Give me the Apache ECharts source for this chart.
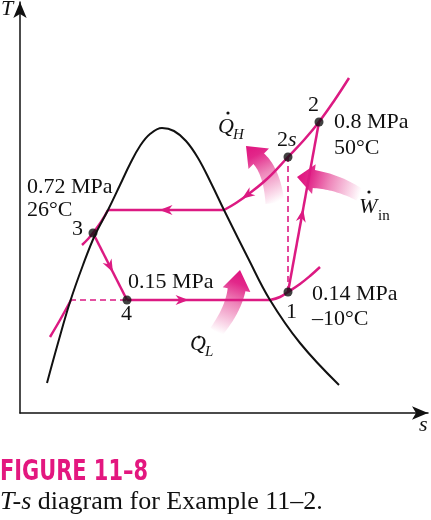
<!DOCTYPE html>
<html><head><meta charset="utf-8">
<script src="https://cdn.jsdelivr.net/npm/echarts@6/dist/echarts.min.js"></script>
<style>html,body{margin:0;padding:0;background:#fff}#c{width:431px;height:520px}</style>
</head><body><div id="c"></div>
<script>
// ---- values (s, T in arbitrary diagram units) ----
const saturationDome = [[27,30],[38,70],[50,111],[63,148],[75,178],[88,203],[100,228],[110,249],[120,267],[130,279],[142,285],[154,282],[166,272],[178,255],[191,230],[204,203],[228,155],[250,113],[280,70],[319,28]];
const condenserLine = [[88,203],[204,203]];
const superheatHigh = [[204,203],[216,210],[230,220],[248,235],[268,256],[284,273],[299,291],[314,312],[329,335]];
const liquidHigh = [[62,168],[68,174],[73,180],[81,191],[88,203]];
const liquidLow = [[30,76],[40,93],[51,113]];
const throttleLine = [[73,180],[107,113]];
const liquidDash = [[50,113],[107,113]];
const evaporatorLine = [[107,113],[250,113]];
const superheatLow = [[250,113],[260,116],[268,121],[280,129],[290,137],[300,146]];
const compressionLine = [[268,121],[299,291]];
const isentropicDash = [[268,121],[268,256]];
const stateNames = ['1','2','2s','3','4'];
const statePoints = [[268,121],[299,291],[268,256],[73,180],[107,113]];

// ---- styling / layout ----
const PINK = '#dc1a82';
const SERIF = '"Liberation Serif","Times New Roman",serif';

const flowArrows = [
  {a: condenserLine[1], b: condenserLine[0], t: 0.5},
  {a: superheatHigh[2], b: superheatHigh[1], t: 0.2},
  {a: throttleLine[0], b: throttleLine[1], t: 0.5},
  {a: evaporatorLine[0], b: evaporatorLine[1], t: 0.385},
  {a: compressionLine[0], b: compressionLine[1], t: 0.45}
];

// heat / work arrows: tail, control, tip (diagram units)
const bigArrows = [
  {p0:[255,210], p1:[252,241], p2:[226,267], tailW:19, bodyW:15, headW:29, headLen:18}, // Q_H
  {p0:[340,218], p1:[318,231], p2:[277,236], tailW:13, bodyW:18, headW:30, headLen:17}, // W_in
  {p0:[196,81],  p1:[213,103], p2:[220,143], tailW:14, bodyW:18, headW:28, headLen:20}  // Q_L
];

const labels = [
  {t:'2', s:288, T:307.4},
  {t:'2', s:257, T:272.4},
  {t:'s', s:268, T:272.4, it:true},
  {t:'0.8 MPa', s:314, T:290.4},
  {t:'50°C', s:314, T:264.4},
  {t:'0.72 MPa', s:7, T:225.4},
  {t:'26°C', s:7, T:202.4},
  {t:'3', s:52, T:183.4},
  {t:'4', s:101, T:98.4},
  {t:'1', s:266, T:100.4},
  {t:'0.15 MPa', s:108, T:130.4},
  {t:'0.14 MPa', s:292, T:118.4},
  {t:'–10°C', s:292, T:93.4},
  {t:'Q', s:198, T:285.4, it:true},
  {t:'H', s:213, T:278.1, it:true, size:15},
  {t:'W', s:339, T:205.4, it:true},
  {t:'in', s:358, T:197.1, size:15},
  {t:'Q', s:170, T:68.4, it:true},
  {t:'L', s:185, T:61.1, it:true, size:15},
  {t:'T', s:-19, T:403.4, it:true},
  {t:'s', s:399, T:-12.6, it:true}
];
const dots = [[208,300],[349,221],[179,76]];

function lineSeries(data, opts) {
  return Object.assign({
    type:'line', data, symbol:'none', smooth:false, animation:false, z:3,
    lineStyle:{color:PINK, width:2.5}
  }, opts || {});
}

const chart = echarts.init(document.getElementById('c'), null, {renderer:'canvas'});

const axisCommon = {
  type:'value', axisTick:{show:false}, axisLabel:{show:false}, splitLine:{show:false},
  axisLine:{show:true, symbol:['none','arrow'], symbolSize:[10,16], lineStyle:{color:'#111', width:1.5}}
};

chart.setOption({
  animation:false,
  grid:{left:20, top:2, width:408, height:411},
  xAxis:Object.assign({min:0, max:408}, axisCommon),
  yAxis:Object.assign({min:0, max:411}, axisCommon),
  series:[
    lineSeries(liquidDash, {lineStyle:{color:PINK, width:1.6, type:[6,4]}}),
    lineSeries(isentropicDash, {lineStyle:{color:PINK, width:1.6, type:[6,4]}}),
    lineSeries(liquidLow, {smooth:0.4}),
    lineSeries(liquidHigh, {smooth:0.4}),
    lineSeries(condenserLine),
    lineSeries(superheatHigh, {smooth:0.4}),
    lineSeries(throttleLine),
    lineSeries(evaporatorLine),
    lineSeries(superheatLow, {smooth:0.4}),
    lineSeries(compressionLine),
    lineSeries(saturationDome, {smooth:0.4, z:4, lineStyle:{color:'#111', width:2}}),
    { // flow direction arrowheads
      type:'custom', z:5, clip:false,
      data: flowArrows.map(f => [f.a[0] + f.t*(f.b[0]-f.a[0]), f.a[1] + f.t*(f.b[1]-f.a[1])]),
      renderItem(params, api) {
        const f = flowArrows[params.dataIndex];
        const A = api.coord(f.a), B = api.coord(f.b);
        const P = [A[0] + f.t*(B[0]-A[0]), A[1] + f.t*(B[1]-A[1])];
        let ux = B[0]-A[0], uy = B[1]-A[1]; const L0 = Math.hypot(ux,uy); ux/=L0; uy/=L0;
        const nx = -uy, ny = ux, L = 13, W = 10;
        const tip = [P[0]+ux*L/2, P[1]+uy*L/2];
        const back = [P[0]-ux*L/2, P[1]-uy*L/2];
        const notch = [back[0]+ux*L*0.3, back[1]+uy*L*0.3];
        return {type:'polygon', shape:{points:[tip,[back[0]+nx*W/2, back[1]+ny*W/2], notch,[back[0]-nx*W/2, back[1]-ny*W/2]]}, style:{fill:PINK}};
      }
    },
    { // heat and work arrows
      type:'custom', z:2, clip:false,
      data: bigArrows.map(b => b.p2),
      renderItem(params, api) {
        const b = bigArrows[params.dataIndex];
        const P0 = api.coord(b.p0), C = api.coord(b.p1), P2 = api.coord(b.p2);
        let dx = P2[0]-C[0], dy = P2[1]-C[1]; const dl = Math.hypot(dx,dy); dx/=dl; dy/=dl;
        const base = [P2[0]-dx*b.headLen, P2[1]-dy*b.headLen];
        const left = [], right = [];
        const N = 24;
        for (let i=0;i<=N;i++){
          const t = i/N, mt = 1-t;
          const x = mt*mt*P0[0] + 2*mt*t*C[0] + t*t*base[0];
          const y = mt*mt*P0[1] + 2*mt*t*C[1] + t*t*base[1];
          let tx = 2*mt*(C[0]-P0[0]) + 2*t*(base[0]-C[0]);
          let ty = 2*mt*(C[1]-P0[1]) + 2*t*(base[1]-C[1]);
          const tl = Math.hypot(tx,ty); tx/=tl; ty/=tl;
          const nx = -ty, ny = tx, w = (b.tailW + (b.bodyW-b.tailW)*t)/2;
          left.push([x+nx*w, y+ny*w]); right.push([x-nx*w, y-ny*w]);
        }
        const nx = -dy, ny = dx, hw = b.headW/2;
        const pts = left.concat([[base[0]+nx*hw, base[1]+ny*hw], P2, [base[0]-nx*hw, base[1]-ny*hw]], right.reverse());
        return {type:'polygon', shape:{points:pts}, style:{
          fill:{type:'linear', x:P0[0], y:P0[1], x2:P2[0], y2:P2[1], global:true,
            colorStops:[{offset:0,color:'#ffffff'},{offset:0.12,color:'#fbe1ee'},{offset:0.5,color:'#ee86ba'},{offset:0.8,color:'#e2288a'},{offset:1,color:'#e0137f'}]}
        }};
      }
    },
    { // state points
      type:'scatter', z:6, data:statePoints, symbol:'circle', symbolSize:9,
      itemStyle:{color:'#111'}, label:{show:false}
    },
    { // text labels
      type:'custom', z:7, clip:false,
      data: labels.map(l => [l.s, l.T]),
      renderItem(params, api) {
        const l = labels[params.dataIndex];
        const p = api.coord([l.s, l.T]);
        return {type:'text', style:{text:l.t, x:p[0], y:p[1], fill:'#111',
          fontFamily:SERIF, fontSize:l.size||22, fontStyle:l.it?'italic':'normal',
          align:'left', verticalAlign:'middle'}};
      }
    },
    { // dots over Q and W
      type:'custom', z:7, clip:false, data:dots,
      renderItem(params, api) {
        const p = api.coord(dots[params.dataIndex]);
        return {type:'circle', shape:{cx:p[0], cy:p[1], r:1.6}, style:{fill:'#111'}};
      }
    }
  ],
  graphic:[
    {type:'text', x:0, y:473, scaleX:0.83, originX:0, originY:473, style:{text:'FIGURE 11–8', fill:'#e3177f',
      fontFamily:'"DejaVu Sans Condensed","Liberation Sans Narrow",sans-serif', fontWeight:'bold', fontSize:28,
      align:'left', verticalAlign:'middle'}},
    {type:'text', x:0, y:502.5, style:{text:'{i|T-s} diagram for Example 11–2.', fill:'#111',
      fontFamily:SERIF, fontSize:26, align:'left', verticalAlign:'middle',
      rich:{i:{fontStyle:'italic', fontFamily:SERIF, fontSize:26, fill:'#111'}}}}
  ]
});
</script></body></html>
